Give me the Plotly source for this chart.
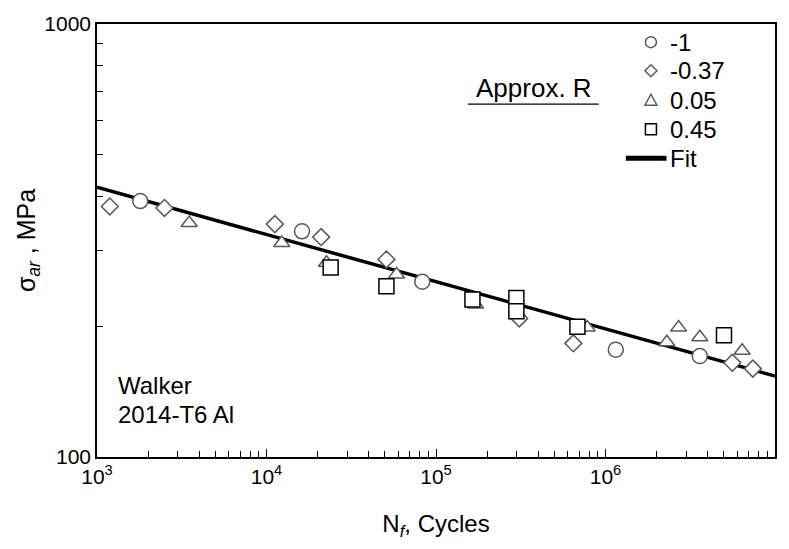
import plotly.graph_objects as go

# Fatigue data for 2014-T6 aluminium (Walker), grouped by approximate R ratio
circle_N = [1800, 16200, 83000, 1.15e6, 3.6e6]
circle_S = [390, 332, 254, 177, 171]

diamond_N = [1190, 2500, 11200, 21000, 51000, 310000, 646000, 5.6e6, 7.4e6]
diamond_S = [379, 376, 345, 322, 286, 209, 183, 165, 160]

triangle_N = [3500, 12300, 22600, 58500, 171000, 780000, 2.3e6, 2.7e6, 3.6e6, 6.4e6]
triangle_S = [347, 312, 281, 264, 225, 199, 184, 199, 189, 176]

square_N = [23900, 51000, 164000, 298000, 298000, 683000, 5.0e6]
square_S = [274, 248, 231, 233, 217, 200, 191]

series_labels = ["-1", "-0.37", "0.05", "0.45"]

# Power-law fit: sigma_ar = A * N^b
fit_A = 891.0
fit_b = -0.109
fit_N = [1e3, 1e7]
fit_S = [fit_A * n ** fit_b for n in fit_N]

x_major = [1e3, 1e4, 1e5, 1e6, 1e7]
x_major_text = ["10<sup>3</sup>", "10<sup>4</sup>", "10<sup>5</sup>", "10<sup>6</sup>", "10<sup>7</sup>"]
x_minor = [m * 10 ** e for e in range(3, 7) for m in range(2, 10)]
y_major = [100, 1000]
y_major_text = ["100", "1000"]
y_minor = [200, 300, 400, 500, 600, 700, 800, 900]

FONT = "Liberation Sans, Arial, Helvetica, sans-serif"
GRAY = "#5a5a5a"
TXT = 24

fig = go.Figure()

fig.add_trace(go.Scatter(
    x=fit_N, y=fit_S, mode="lines", name="Fit", showlegend=False,
    line=dict(color="black", width=3.5), hoverinfo="skip",
))

# marker styles per series: (x, y, symbol, outline colour, size)
styles = {
    "-1": (circle_N, circle_S, "circle", GRAY, 15),
    "-0.37": (diamond_N, diamond_S, "diamond", GRAY, 13),
    "0.05": (triangle_N, triangle_S, "triangle-up", GRAY, 14),
    "0.45": (square_N, square_S, "square", "black", 15),
}
for lab in ["0.05", "-0.37", "-1", "0.45"]:
    xs, ys, sym, col, size = styles[lab]
    fig.add_trace(go.Scatter(
        x=xs, y=ys, mode="markers", name=lab, showlegend=False,
        marker=dict(symbol=sym, size=size, color="white", line=dict(color=col, width=1.5)),
    ))

# Key: small symbols drawn as pixel-sized shapes anchored in plot-area fractions
key_x_sym = 0.817
key_x_txt = 0.842
key_rows = [0.958, 0.892, 0.824, 0.757, 0.690]
key_paths = {
    "-1": ("circle", None),
    "-0.37": ("path", "M0,-6 L6,0 L0,6 L-6,0 Z"),
    "0.05": ("path", "M-6,-5 L6,-5 L0,6 Z"),
    "0.45": ("rect", None),
}
shapes = []
annotations = []
for lab, ky in zip(series_labels, key_rows[:4]):
    kind, path = key_paths[lab]
    col = styles[lab][3]
    shp = dict(type=kind, xref="paper", yref="paper", xsizemode="pixel", ysizemode="pixel",
               xanchor=key_x_sym, yanchor=ky, fillcolor="white",
               line=dict(color=col, width=1.5))
    if path is None:
        shp.update(x0=-5.5, x1=5.5, y0=-5.5, y1=5.5)
    else:
        shp["path"] = path
    shapes.append(shp)
    annotations.append(dict(text=lab, xref="paper", yref="paper", x=key_x_txt, y=ky,
                            xanchor="left", yanchor="middle", showarrow=False,
                            font=dict(family=FONT, size=TXT)))
shapes.append(dict(type="line", xref="paper", yref="paper", x0=0.780, x1=0.840,
                   y0=key_rows[4], y1=key_rows[4], line=dict(color="black", width=5)))
annotations.append(dict(text="Fit", xref="paper", yref="paper", x=key_x_txt, y=key_rows[4],
                        xanchor="left", yanchor="middle", showarrow=False,
                        font=dict(family=FONT, size=TXT)))

# Heading of the key with its underline
annotations.append(dict(text="Approx. R", xref="paper", yref="paper", x=0.644, y=0.852,
                        xanchor="center", yanchor="middle", showarrow=False,
                        font=dict(family=FONT, size=26)))
shapes.append(dict(type="line", xref="paper", yref="paper", x0=0.547, x1=0.740,
                   y0=0.815, y1=0.815, line=dict(color="black", width=1.2)))

annotations += [
    dict(text="Walker", xref="paper", yref="paper", x=0.028, y=0.165,
         xanchor="left", yanchor="middle", showarrow=False,
         font=dict(family=FONT, size=TXT)),
    dict(text="2014-T6 Al", xref="paper", yref="paper", x=0.028, y=0.098,
         xanchor="left", yanchor="middle", showarrow=False,
         font=dict(family=FONT, size=TXT)),
]

fig.update_layout(
    width=789, height=549,
    margin=dict(l=97, r=13, t=22, b=92),
    paper_bgcolor="white", plot_bgcolor="white",
    font=dict(family=FONT, size=TXT, color="black"),
    showlegend=False,
    xaxis=dict(
        type="log", range=[3, 7], tickvals=x_major, ticktext=x_major_text,
        ticks="inside", ticklen=8, tickwidth=1, tickcolor="black",
        minor=dict(tickvals=x_minor, ticks="inside", ticklen=6, tickwidth=1,
                   tickcolor="black", showgrid=False),
        showline=True, linecolor="black", linewidth=1.5, mirror=True,
        showgrid=False, zeroline=False,
        tickfont=dict(family=FONT, size=21),
        title=dict(text="N<sub><i>f</i></sub>, Cycles", font=dict(family=FONT, size=TXT), standoff=28),
    ),
    yaxis=dict(
        type="log", range=[2, 3], tickvals=y_major, ticktext=y_major_text,
        ticks="inside", ticklen=8, tickwidth=1, tickcolor="black",
        minor=dict(tickvals=y_minor, ticks="inside", ticklen=6, tickwidth=1,
                   tickcolor="black", showgrid=False),
        showline=True, linecolor="black", linewidth=1.5, mirror=True,
        showgrid=False, zeroline=False,
        tickfont=dict(family=FONT, size=21),
        title=dict(text="σ<sub><i>ar</i></sub> , MPa", font=dict(family=FONT, size=25), standoff=2),
    ),
    annotations=annotations,
    shapes=shapes,
)

fig.write_html("out.html")
